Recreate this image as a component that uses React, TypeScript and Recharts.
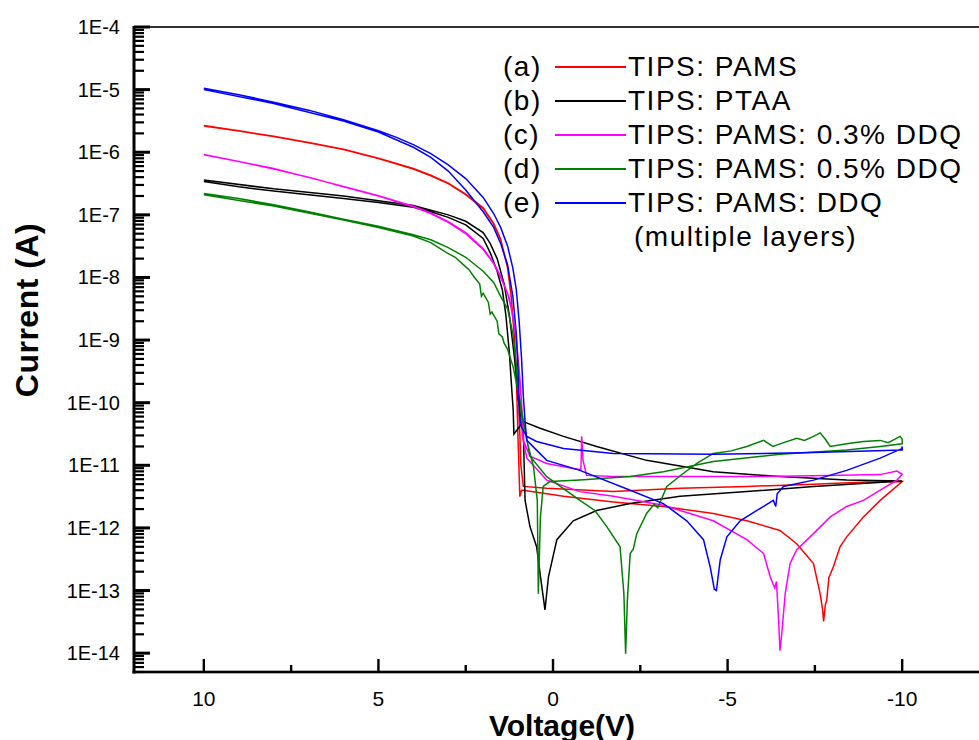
import React from 'react';
import { LineChart, Line, XAxis, YAxis, Legend, Label } from 'recharts';

// [voltage (V), current (A)] — each sweep goes +10 V -> -10 V and back
const seriesA: [number, number][] = [
  [10, 2.63e-6], [9, 2.19e-6], [8, 1.78e-6], [7, 1.41e-6], [6, 1.1e-6], [5, 7.9e-7], [4, 5.4e-7],
  [3.5, 4.2e-7], [3, 3.16e-7], [2.5, 2.1e-7], [2, 1.26e-7], [1.7, 7.1e-8], [1.5, 4.0e-8], [1.3, 1.41e-8],
  [1.2, 5.0e-9], [1.1, 1.0e-9], [1.04, 1.58e-10], [1.0, 2.5e-11], [0.95, 3.16e-12],
  [0.9, 4.0e-12], [0.85, 4.0e-12], [-0.3, 3.2e-12], [-1.73, 2.6e-12], [-3.16, 2.2e-12], [-4.59, 1.7e-12],
  [-5.55, 1.3e-12], [-6.5, 9.1e-13], [-6.98, 5.6e-13], [-7.46, 2.7e-13], [-7.65, 8.9e-14], [-7.72, 5.0e-14],
  [-7.75, 3.2e-14], [-7.8, 6.0e-14], [-7.84, 7.1e-14], [-7.9, 1.6e-13], [-8.03, 2.4e-13], [-8.22, 5.0e-13],
  [-8.41, 7.2e-13], [-8.89, 1.5e-12], [-9.37, 2.75e-12], [-10, 5.5e-12],
  [-9.0, 5.4e-12], [-7.46, 5.0e-12], [-5.55, 4.6e-12], [-3.64, 4.3e-12], [-1.73, 3.8e-12], [0.18, 4.3e-12],
  [0.85, 4.6e-12], [0.92, 1.0e-11], [0.98, 1.0e-10], [1.03, 1.7e-10], [1.1, 1.05e-9], [1.2, 5.2e-9],
  [1.3, 1.45e-8], [1.5, 4.1e-8], [1.7, 7.3e-8], [2, 1.3e-7], [2.5, 2.15e-7], [3, 3.2e-7], [3.5, 4.3e-7],
  [4, 5.5e-7], [5, 8.0e-7], [6, 1.12e-6], [7, 1.43e-6], [8, 1.8e-6], [9, 2.2e-6], [10, 2.68e-6],
];

const seriesB: [number, number][] = [
  [10, 3.4e-7], [9, 2.8e-7], [8, 2.4e-7], [7, 2.1e-7], [6, 1.82e-7], [5, 1.58e-7], [4, 1.32e-7],
  [3.5, 1.12e-7], [3, 9.1e-8], [2.5, 6.9e-8], [2, 4.2e-8], [1.8, 2.5e-8], [1.6, 1.26e-8], [1.45, 6.3e-9],
  [1.35, 2.5e-9], [1.25, 6.3e-10], [1.18, 1.58e-10], [1.14, 7.6e-11], [1.12, 3.16e-11],
  [0.85, 5.0e-11], [0.37, 3.9e-11], [-0.3, 2.9e-11], [-1.25, 2.0e-11], [-2.68, 1.2e-11],
  [-4.59, 7.9e-12], [-6.5, 6.6e-12], [-8.41, 5.8e-12], [-10, 5.6e-12],
  [-7.46, 4.6e-12], [-5.55, 3.8e-12], [-3.64, 3.2e-12], [-2.21, 2.45e-12], [-1.25, 1.9e-12], [-0.58, 1.3e-12],
  [-0.11, 6.5e-13], [0.13, 1.66e-13], [0.23, 4.9e-14], [0.32, 1.15e-13], [0.47, 5.0e-13], [0.66, 1.05e-12],
  [0.8, 2.75e-12], [0.85, 3.5e-11], [0.9, 5.0e-11], [1.0, 1.26e-10], [1.1, 5.0e-10], [1.25, 2.5e-9],
  [1.4, 7.9e-9], [1.6, 2.0e-8], [1.8, 3.5e-8], [2, 5.2e-8], [2.5, 7.9e-8], [3, 1.0e-7], [4, 1.41e-7],
  [6, 2.0e-7], [8, 2.6e-7], [10, 3.6e-7],
];

const seriesC: [number, number][] = [
  [10, 9.1e-7], [9, 7.1e-7], [8, 5.4e-7], [7, 4.0e-7], [6, 2.8e-7], [5, 2.0e-7], [4, 1.35e-7],
  [3.5, 1.05e-7], [3, 7.6e-8], [2.5, 5.0e-8], [2, 2.8e-8], [1.7, 1.66e-8], [1.5, 1.0e-8], [1.3, 5.6e-9],
  [1.15, 2.5e-9], [1.05, 1.0e-9], [0.95, 2.5e-10], [0.9, 1.0e-10], [0.85, 2.5e-11],
  [0.66, 1.4e-11], [0.18, 1.07e-11], [-0.58, 8.9e-12], [-0.8, 8.5e-12], [-0.82, 2.9e-11], [-0.86, 1.2e-11],
  [-0.96, 6.9e-12], [-1.73, 6.6e-12], [-3.64, 6.6e-12], [-5.55, 6.6e-12], [-7.46, 6.8e-12], [-9.37, 7.1e-12],
  [-9.85, 8.1e-12], [-10, 7.2e-12],
  [-9.85, 5.8e-12], [-9.37, 4.0e-12], [-8.89, 2.75e-12], [-8.41, 2.2e-12], [-7.94, 1.5e-12], [-7.46, 8.1e-13],
  [-6.98, 4.5e-13], [-6.79, 2.7e-13], [-6.65, 8.9e-14], [-6.55, 2.0e-14], [-6.5, 1.1e-14], [-6.46, 3.4e-14],
  [-6.4, 1.4e-13], [-6.35, 1.1e-13], [-6.22, 1.66e-13], [-6.03, 3.9e-13], [-5.55, 6.5e-13], [-4.59, 1.3e-12],
  [-3.16, 2.3e-12], [-1.73, 3.2e-12], [-0.77, 3.8e-12], [0.18, 5.8e-12], [0.75, 1.3e-11], [0.88, 3.0e-11],
  [0.92, 1.3e-10], [1.0, 5.0e-10], [1.1, 1.6e-9], [1.25, 4.6e-9], [1.5, 1.05e-8], [1.7, 1.7e-8], [2, 2.9e-8],
  [2.5, 5.2e-8], [3, 7.8e-8], [3.5, 1.07e-7], [4, 1.37e-7], [5, 2.02e-7], [6, 2.85e-7], [8, 5.5e-7],
  [10, 9.2e-7],
];

const seriesD: [number, number][] = [
  [10, 2.2e-7], [9, 1.82e-7], [8, 1.45e-7], [7, 1.12e-7], [6, 8.5e-8], [5, 6.6e-8], [4, 4.8e-8],
  [3.5, 4.0e-8], [3, 3.0e-8], [2.5, 2.1e-8], [2, 1.26e-8], [1.7, 8.3e-9], [1.5, 5.0e-9], [1.3, 3.16e-9],
  [1.15, 1.26e-9], [1.05, 4.0e-10], [0.99, 1.41e-10], [0.9, 6.3e-11], [0.8, 3.6e-11],
  [0.66, 1.4e-11], [0.18, 6.6e-12], [-0.77, 2.75e-12], [-1.2, 1.9e-12], [-1.54, 1.05e-12], [-1.92, 5.0e-13],
  [-2.03, 8.9e-14], [-2.08, 9.8e-15], [-2.13, 7.1e-14], [-2.21, 3.9e-13], [-2.3, 4.6e-13], [-2.4, 8.1e-13],
  [-2.68, 1.7e-12], [-2.9, 2.4e-12], [-3.0, 2.1e-12], [-3.26, 4.6e-12], [-3.7, 7.2e-12], [-4.12, 1.07e-11],
  [-4.59, 1.55e-11], [-5.1, 1.7e-11], [-5.55, 2.0e-11], [-6.03, 2.5e-11], [-6.3, 2.0e-11], [-6.5, 2.2e-11],
  [-6.98, 2.7e-11], [-7.2, 2.5e-11], [-7.46, 2.9e-11], [-7.65, 3.3e-11], [-7.8, 2.6e-11], [-7.94, 2.0e-11],
  [-8.41, 2.2e-11], [-8.89, 2.4e-11], [-9.37, 2.5e-11], [-9.6, 2.3e-11], [-9.94, 2.9e-11], [-10, 2.6e-11],
  [-10, 2.2e-11], [-9.37, 2.0e-11], [-8.41, 1.75e-11], [-6.5, 1.5e-11], [-4.59, 1.15e-11], [-3.16, 7.9e-12],
  [-2.21, 6.6e-12], [-0.77, 5.8e-12], [0.09, 5.5e-12], [0.28, 4.6e-12], [0.36, 1.5e-12], [0.42, 8.9e-14],
  [0.45, 2.75e-12], [0.56, 9.5e-12], [0.75, 2.5e-11], [0.95, 1.1e-10], [1.14, 3.7e-10], [1.3, 7.1e-10],
  [1.4, 8.9e-10], [1.45, 1.12e-9], [1.55, 1.26e-9], [1.6, 2.0e-9], [1.75, 2.8e-9], [1.8, 2.6e-9],
  [1.85, 4.0e-9], [2.0, 5.6e-9], [2.05, 5.0e-9], [2.1, 7.9e-9], [2.25, 1.0e-8], [2.4, 1.32e-8],
  [2.6, 1.66e-8], [2.8, 2.1e-8], [3.05, 2.5e-8], [3.5, 3.6e-8], [4, 4.6e-8], [5, 6.3e-8], [6, 8.3e-8],
  [8, 1.38e-7], [10, 2.1e-7],
];

const seriesE: [number, number][] = [
  [10, 1.05e-5], [9, 8.3e-6], [8, 6.3e-6], [7, 4.7e-6], [6, 3.3e-6], [5, 2.2e-6], [4.5, 1.74e-6],
  [4, 1.32e-6], [3.5, 9.5e-7], [3, 6.3e-7], [2.5, 3.8e-7], [2, 1.9e-7], [1.7, 1.05e-7], [1.5, 6.3e-8],
  [1.3, 3.16e-8], [1.15, 1.41e-8], [1.05, 6.3e-9], [0.97, 2.0e-9], [0.9, 5.0e-10], [0.85, 1.26e-10],
  [0.8, 5.0e-11], [0.75, 2.5e-11],
  [0.18, 1.2e-11], [-0.77, 8.3e-12], [-2.21, 4.0e-12], [-3.16, 2.45e-12], [-3.83, 1.3e-12], [-4.31, 6.5e-13],
  [-4.5, 2.4e-13], [-4.62, 1.05e-13], [-4.68, 1.0e-13], [-4.79, 3.1e-13], [-4.98, 7.2e-13], [-5.36, 1.3e-12],
  [-5.84, 1.9e-12], [-6.31, 2.75e-12], [-6.38, 2.2e-12], [-6.42, 3.5e-12], [-6.6, 4.6e-12], [-7.46, 5.8e-12],
  [-8.41, 8.3e-12], [-9.37, 1.3e-11], [-9.99, 1.85e-11], [-10, 2.0e-11],
  [-10, 1.75e-11], [-7.46, 1.6e-11], [-4.59, 1.5e-11], [-1.73, 1.55e-11], [-0.3, 1.85e-11], [0.47, 2.4e-11],
  [0.75, 2.9e-11], [0.9, 4.0e-11], [0.96, 6.3e-11], [1.0, 3.16e-10], [1.05, 1.26e-9], [1.15, 5.0e-9],
  [1.3, 1.58e-8], [1.5, 3.5e-8], [1.7, 6.3e-8], [2, 1.12e-7], [2.5, 2.5e-7], [3, 5.0e-7], [3.5, 8.3e-7],
  [4, 1.2e-6], [5, 2.1e-6], [6, 3.16e-6], [8, 6.0e-6], [10, 1.0e-5],
];

const seriesNames = ['TIPS: PAMS', 'TIPS: PTAA', 'TIPS: PAMS: 0.3% DDQ', 'TIPS: PAMS: 0.5% DDQ', 'TIPS: PAMS: DDQ'];
const seriesTags = ['(a)', '(b)', '(c)', '(d)', '(e)'];
const seriesColors = ['#ff0000', '#000000', '#ff00ff', '#008000', '#0000ff'];
const seriesData = [seriesA, seriesB, seriesC, seriesD, seriesE];

const xMajorTicks = [10, 5, 0, -5, -10];
const xMinorTicks = [7.5, 2.5, -2.5, -7.5];
const yMajorExponents = [-14, -13, -12, -11, -10, -9, -8, -7, -6, -5, -4];

const X_DOMAIN: [number, number] = [-12.2, 12];
const Y_DOMAIN: [number, number] = [5e-15, 1e-4];
const CHART_W = 979;
const CHART_H = 740;
const MARGIN_TOP = 27;
const Y_AXIS_W = 134;
const X_AXIS_H = 68;
const PLOT = { left: Y_AXIS_W, top: MARGIN_TOP, width: CHART_W - Y_AXIS_W, height: CHART_H - MARGIN_TOP - X_AXIS_H };

const FONT = '"Liberation Sans", Arial, sans-serif';

const yTicks: number[] = [];
[-15, ...yMajorExponents].forEach(e => {
  if (e >= -14) yTicks.push(Number(`1e${e}`));
  if (e < -4) {
    for (let k = 2; k <= 9; k++) {
      const v = Number(`${k}e${e}`);
      if (v >= Y_DOMAIN[0]) yTicks.push(v);
    }
  }
});

const isDecade = (v: number) => Math.abs(Math.log10(v) - Math.round(Math.log10(v))) < 1e-6;

// same mapping as the chart's reversed linear x axis and log y axis (used for the frame overlay)
const sx = (v: number) => PLOT.left + ((X_DOMAIN[1] - v) / (X_DOMAIN[1] - X_DOMAIN[0])) * PLOT.width;
const sy = (i: number) =>
  PLOT.top + (Math.log10(Y_DOMAIN[1] / i) / Math.log10(Y_DOMAIN[1] / Y_DOMAIN[0])) * PLOT.height;

const renderYTick = (props: any) => {
  const { x, y, payload } = props;
  if (!isDecade(payload.value)) return <g />;
  return (
    <text x={Number(x) - 14} y={Number(y) + 7} textAnchor="end" fontSize={20} fontFamily={FONT} fill="#000">
      {`1E${Math.round(Math.log10(payload.value))}`}
    </text>
  );
};

const renderXTick = (props: any) => {
  const { x, y, payload } = props;
  if (!xMajorTicks.includes(payload.value)) return <g />;
  return (
    <text x={Number(x)} y={Number(y) + 34} textAnchor="middle" fontSize={21} fontFamily={FONT} fill="#000">
      {payload.value}
    </text>
  );
};

const Frame = () => {
  const bottom = PLOT.top + PLOT.height;
  return (
    <svg
      width={CHART_W}
      height={CHART_H}
      style={{ position: 'absolute', left: 0, top: 0, pointerEvents: 'none' }}
    >
      <rect x={PLOT.left} y={PLOT.top - 1} width={CHART_W - PLOT.left} height={2} fill="#333" />
      <rect x={PLOT.left - 1.5} y={PLOT.top - 1} width={3} height={PLOT.height + 2.5} fill="#000" />
      <rect x={PLOT.left - 1.5} y={bottom - 1.3} width={CHART_W - PLOT.left + 1.5} height={2.6} fill="#000" />
      {yTicks.map(v => {
        const major = isDecade(v);
        const h = major ? 3 : 2.2;
        return (
          <rect key={`y${v}`} x={PLOT.left} y={sy(v) - h / 2} width={major ? 16 : 10} height={h} fill="#000" />
        );
      })}
      {[...xMajorTicks, ...xMinorTicks].map(v => {
        const len = xMajorTicks.includes(v) ? 13 : 7;
        return <rect key={`x${v}`} x={sx(v) - 1.2} y={bottom - len} width={2.4} height={len} fill="#000" />;
      })}
    </svg>
  );
};

const LegendBox = () => (
  <div style={{ fontFamily: FONT, fontSize: 28, letterSpacing: 1.5, color: '#000', lineHeight: '34px' }}>
    {seriesNames.map((name, i) => (
      <div key={name} style={{ display: 'flex', alignItems: 'center', height: 34, whiteSpace: 'nowrap' }}>
        <span style={{ width: 52 }}>{seriesTags[i]}</span>
        <span style={{ width: 71, height: 2, background: seriesColors[i], marginRight: 2 }} />
        <span>{name}</span>
      </div>
    ))}
    <div style={{ height: 34, paddingLeft: 131, whiteSpace: 'nowrap' }}>(multiple layers)</div>
  </div>
);

export default function App() {
  return (
    <div style={{ width: CHART_W, height: CHART_H, background: '#fff', overflow: 'hidden', position: 'relative' }}>
      <style>{'body{margin:0}'}</style>
      <LineChart width={CHART_W} height={CHART_H} margin={{ top: MARGIN_TOP, right: 0, bottom: 0, left: 0 }}>
        <XAxis
          type="number"
          dataKey="v"
          domain={X_DOMAIN}
          reversed
          allowDataOverflow
          ticks={[...xMajorTicks, ...xMinorTicks]}
          interval={0}
          tickSize={0}
          tickMargin={0}
          tickLine={false}
          axisLine={false}
          tick={renderXTick}
          height={X_AXIS_H}
        >
          <Label
            content={() => (
              <text x={562} y={736} textAnchor="middle" fontSize={30} fontWeight="bold" fontFamily={FONT} fill="#000">
                Voltage(V)
              </text>
            )}
          />
        </XAxis>
        <YAxis
          type="number"
          scale="log"
          domain={Y_DOMAIN}
          allowDataOverflow
          ticks={yTicks}
          interval={0}
          tickSize={0}
          tickMargin={0}
          tickLine={false}
          axisLine={false}
          tick={renderYTick}
          width={Y_AXIS_W}
        >
          <Label
            content={() => (
              <text
                x={38}
                y={310}
                transform="rotate(-90, 38, 310)"
                textAnchor="middle"
                fontSize={32}
                fontWeight="bold"
                fontFamily={FONT}
                letterSpacing={0.5}
                fill="#000"
              >
                Current (A)
              </text>
            )}
          />
        </YAxis>
        {seriesData.map((s, idx) => (
          <Line
            key={seriesNames[idx]}
            data={s.map(([v, i]) => ({ v, i }))}
            dataKey="i"
            type="linear"
            stroke={seriesColors[idx]}
            strokeWidth={1.5}
            dot={false}
            activeDot={false}
            isAnimationActive={false}
          />
        ))}
        <Legend
          layout="vertical"
          align="center"
          verticalAlign="middle"
          wrapperStyle={{ position: 'absolute', left: 503, top: 50, width: 476 }}
          content={() => <LegendBox />}
        />
      </LineChart>
      <Frame />
    </div>
  );
}
